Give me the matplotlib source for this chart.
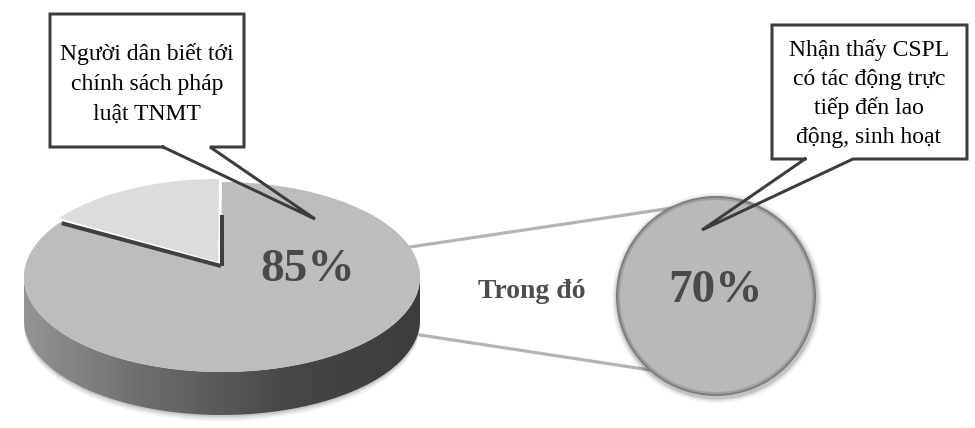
import numpy as np
import matplotlib.pyplot as plt
from matplotlib.patches import Polygon, Circle, Rectangle
from matplotlib.colors import LinearSegmentedColormap

# data
values = [85, 15]          # biet / khong biet
sub_value = 70             # trong do
box1_lines = ["Người dân biết tới", "chính sách pháp", "luật TNMT"]
box2_lines = ["Nhận thấy CSPL", "có tác động trực", "tiếp đến lao", "động, sinh hoạt"]
mid_label = "Trong đó"

serif = ['Liberation Serif', 'DejaVu Serif']
px = 0.72  # 1 px in points at dpi 100

fig = plt.figure(figsize=(9.75, 4.28), dpi=100)
ax = fig.add_axes([0, 0, 1, 1])
ax.set_xlim(0, 975)
ax.set_ylim(428, 0)
ax.axis('off')

# pie geometry (pixel space)
cx, cy, a, b = 222, 277, 198, 95
vx, vy = 221, 265
depth = 43

def P(th):
    th = np.radians(th)
    return np.column_stack([cx + a*np.cos(th), cy - b*np.sin(th)])

# connector lines (behind)
ax.plot([410, 672], [247, 208], color='#b4b4b4', lw=3.2*px, zorder=1)
ax.plot([420, 650], [335, 370], color='#b4b4b4', lw=3.2*px, zorder=1)

# soft shadow under pie
for k, al in zip([6, 4, 2], [0.05, 0.07, 0.10]):
    th = np.linspace(175, 365, 100)
    top = P(th)
    bot = P(th[::-1]) + [0, depth + k]
    ax.add_patch(Polygon(np.vstack([top, bot]), closed=True,
                         fc='black', ec='none', alpha=al, zorder=2))

# side face with gradient
th = np.linspace(180, 360, 200)
side = np.vstack([P(th), P(th[::-1]) + [0, depth]])
side_patch = Polygon(side, closed=True, fc='none', ec='none', zorder=3)
ax.add_patch(side_patch)
cmap = LinearSegmentedColormap.from_list('side', ['#939393', '#6a6a6a', '#474747', '#3c3c3c'])
grad = np.linspace(0, 1, 256).reshape(1, -1)
im = ax.imshow(grad, cmap=cmap, extent=[cx - a, cx + a, cy + b + depth + 5, cy - 5],
               aspect='auto', zorder=3)
im.set_clip_path(side_patch)

# top faces
ang_small = 360 * values[1] / sum(values)
start = 90
th_main = np.linspace(start + ang_small, start + 360, 300)
main = np.vstack([[vx, vy], P(th_main)])
ax.add_patch(Polygon(main, closed=True, fc='#bdbdbd', ec='none', zorder=4))

# exposed cut faces of main slice
edge = P(np.array([start + ang_small]))[0]
ax.plot([edge[0], vx], [edge[1] + 2, vy + 1], color='#404040', lw=4*px,
        solid_capstyle='butt', zorder=5)
ax.plot([vx + 0.5, vx + 0.5], [vy + 1, 215], color='#404040', lw=4*px,
        solid_capstyle='butt', zorder=5)

# small slice, pulled out a little
off = np.array([-3, -3])
th_small = np.linspace(start, start + ang_small, 80)
small = np.vstack([[vx, vy], P(th_small)]) + off
ax.add_patch(Polygon(small, closed=True, fc='#dcdcdc', ec='none', zorder=6))

ax.text(308, 270, f"{values[0]}%", family=serif, fontweight='bold', fontsize=34,
        color='#4a4a4a', ha='center', va='center', zorder=7)

# right circle
ccx, ccy, r = 716, 296, 100
for k, al in zip([5, 3, 1.5], [0.05, 0.08, 0.12]):
    ax.add_patch(Circle((ccx + 1, ccy + 2), r + k, fc='black', ec='none', alpha=al, zorder=2))
ax.add_patch(Circle((ccx, ccy), r, fc='#7e7e7e', ec='none', zorder=3))
ax.add_patch(Circle((ccx, ccy), r - 2, fc='#a0a0a0', ec='none', zorder=3))
ax.add_patch(Circle((ccx, ccy), r - 4, fc='#b9b9b9', ec='none', zorder=3))
ax.text(715, 291, f"{sub_value}%", family=serif, fontweight='bold', fontsize=34,
        color='#4a4a4a', ha='center', va='center', zorder=7)

ax.text(532, 291, mid_label, family=serif, fontweight='bold', fontsize=20,
        color='#4d4d4d', ha='center', va='center', zorder=7)

# callouts
def callout(x0, y0, x1, y1, t0, t1, tip, lines, tx, ty, dy):
    ax.add_patch(Rectangle((x0, y0), x1 - x0, y1 - y0, fc='white', ec='none', zorder=8))
    path = np.array([[t0, y1], [x0, y1], [x0, y0], [x1, y0], [x1, y1], [t1, y1], tip, [t0, y1]])
    ax.plot(path[:, 0], path[:, 1], color='#3c3c3c', lw=3*px, solid_joinstyle='miter', zorder=9)
    for i, s in enumerate(lines):
        ax.text(tx, ty + i*dy, s, family=serif, fontsize=17, color='black',
                ha='center', va='center', zorder=10)

callout(50, 14, 244, 147, 163, 210, (315, 219), box1_lines, 147, 54, 30)
callout(772, 25, 967, 159, 805, 853, (702, 230), box2_lines, 869, 50, 29)

fig.savefig('out.png', dpi=100)
